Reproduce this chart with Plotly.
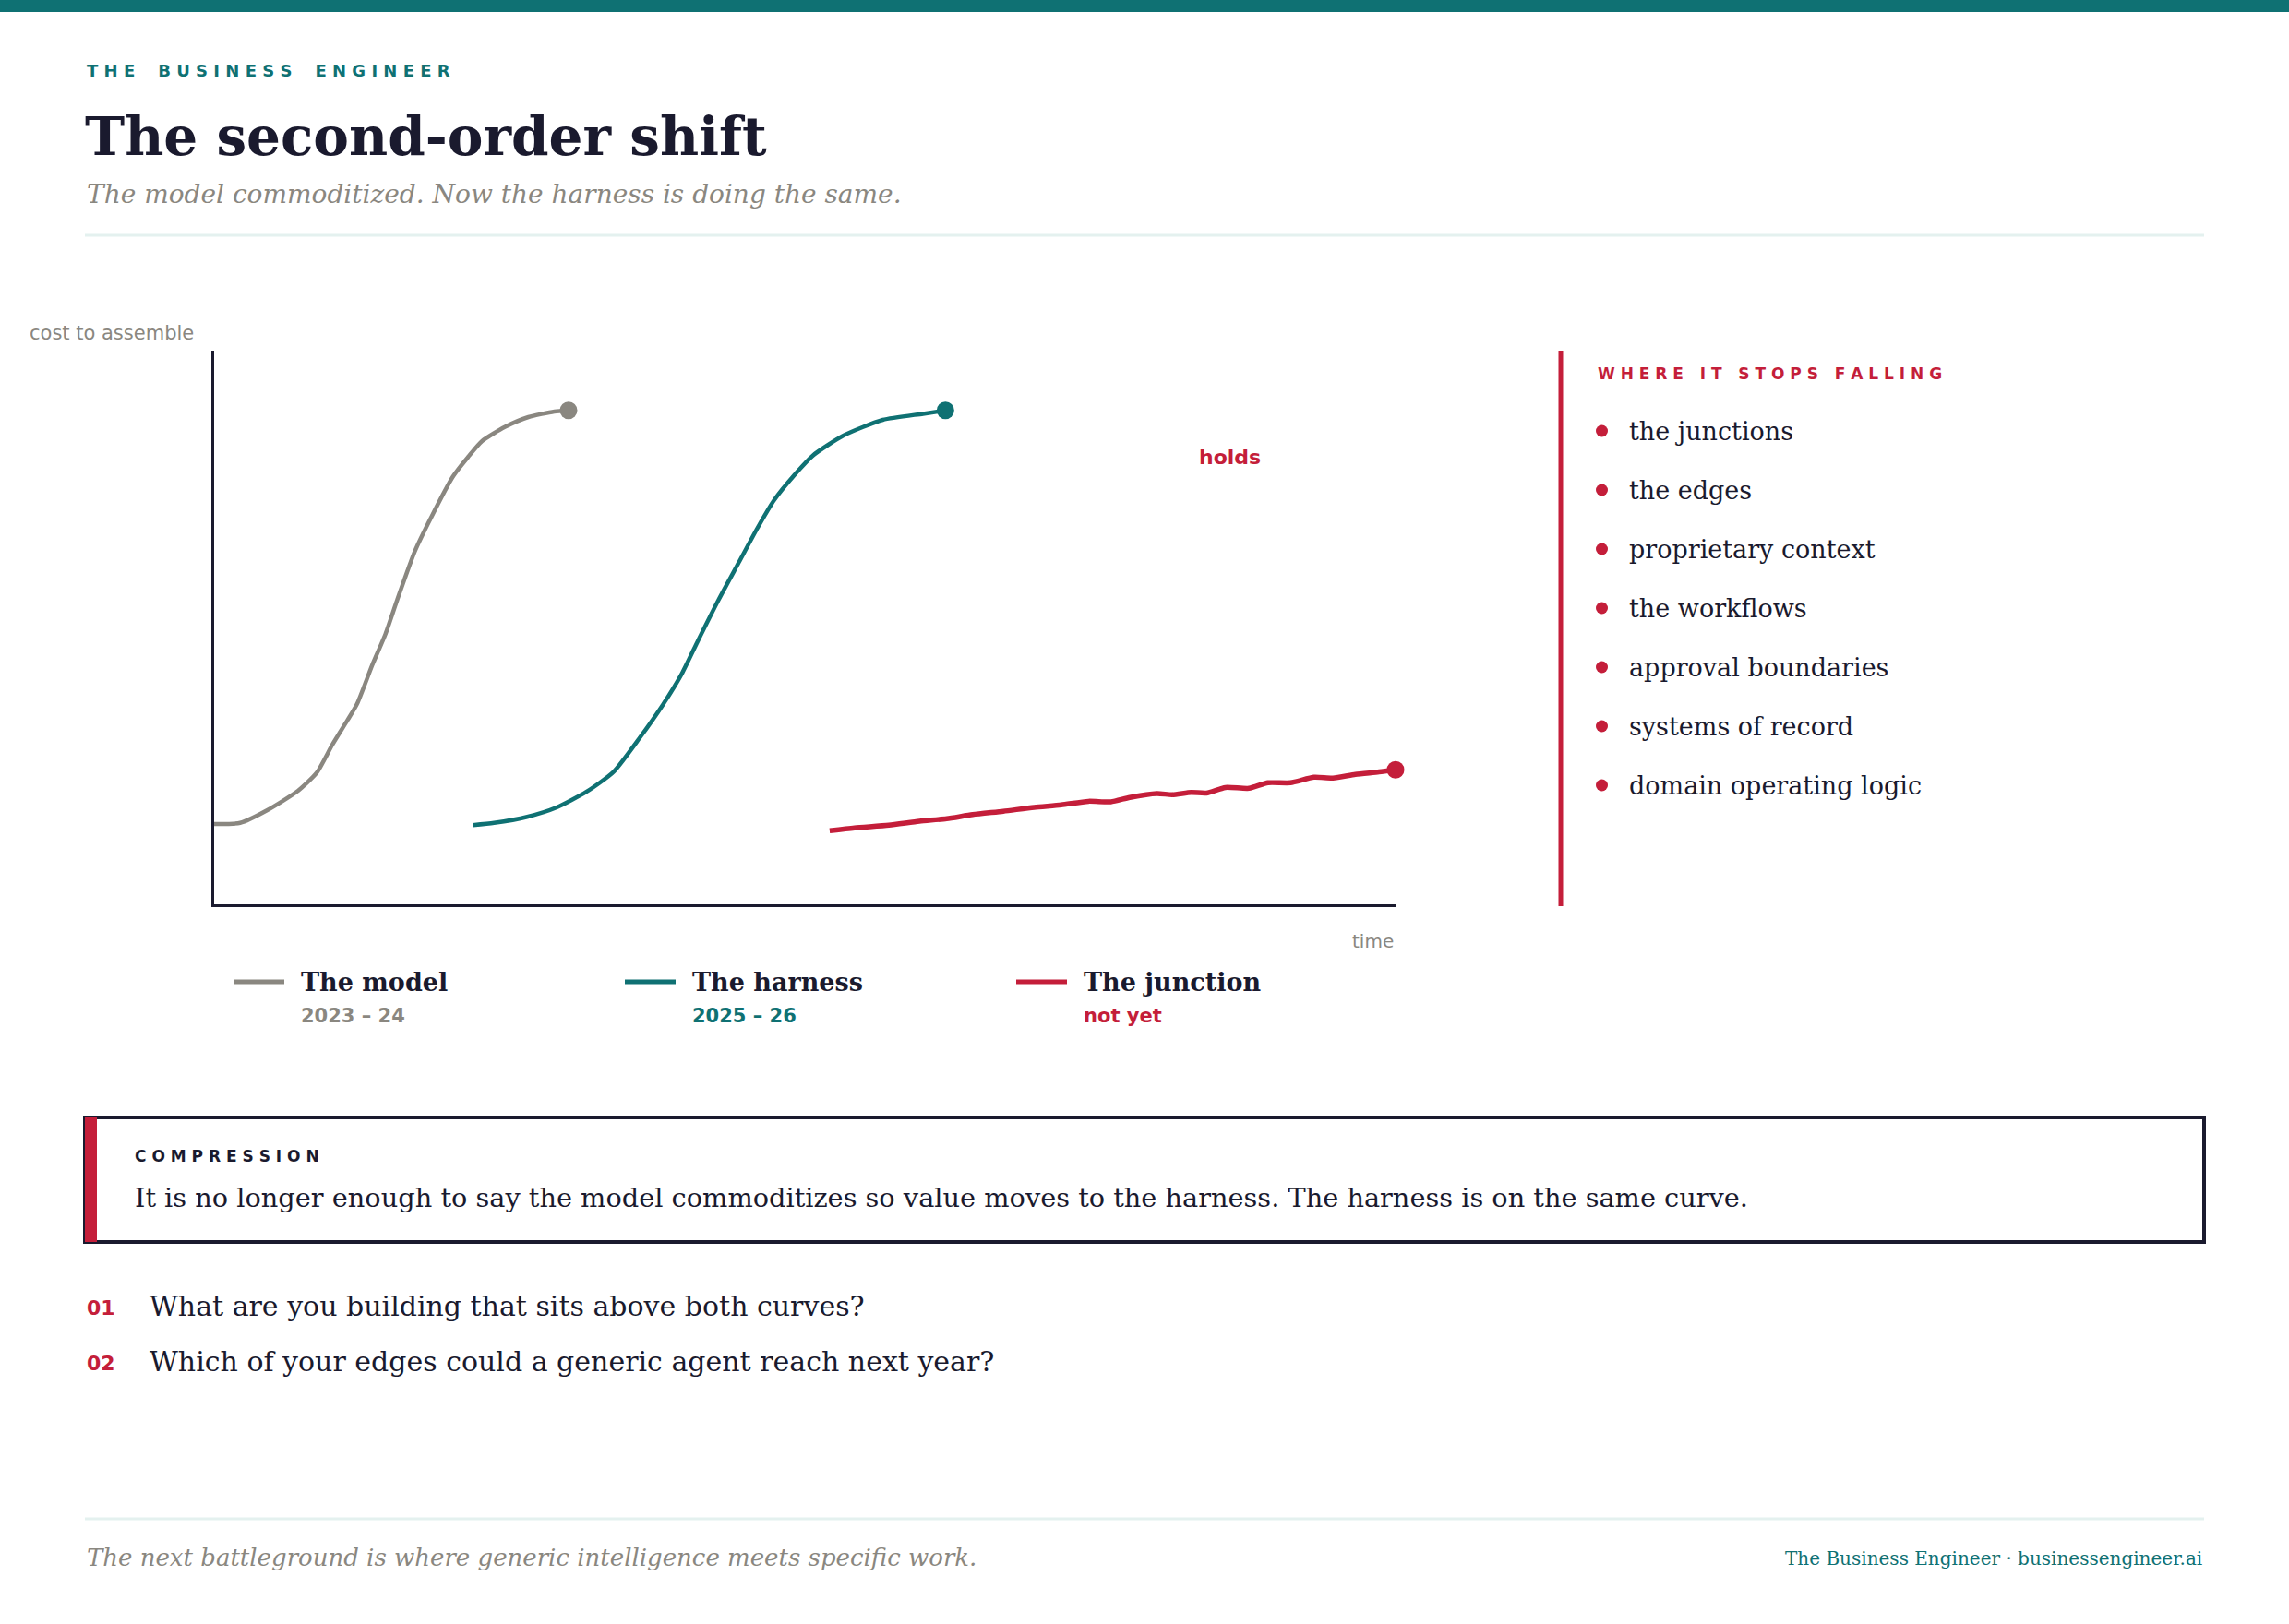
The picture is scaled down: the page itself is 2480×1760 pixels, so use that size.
import plotly.graph_objects as go

W, H = 2480, 1760

# curve data (x = time, y = cost to assemble, both 0-100)
model_x = [0, 2.2, 4.5, 7.1, 8.7, 10, 11.3, 12.1, 13.4, 14.5, 15.5, 17, 18.4, 20.2, 21.5, 22.7, 24.6, 26.6, 28.8, 30]
model_y = [14.5, 14.7, 17, 20.5, 23.8, 28.8, 33.3, 36.2, 43.3, 48.8, 55, 63.8, 70, 77.2, 80.8, 83.7, 86.2, 88, 89, 89.2]

harness_x = [21.9, 23.7, 26.5, 29.0, 31.5, 33.8, 36.0, 38.0, 39.6, 41.0, 42.7, 44.4, 46.0, 47.4, 49.1, 50.7, 53.3, 56.6, 60, 61.9]
harness_y = [14.3, 14.7, 15.8, 17.5, 20.3, 23.9, 30, 36.1, 41.7, 47.8, 55, 61.7, 68, 73, 77.5, 81.1, 84.7, 87.5, 88.6, 89.2]

junction_x = [52.1, 54.2, 57.1, 59.7, 62.0, 64.2, 66.8, 69.4, 71.7, 74.0, 75.9, 77.5, 79.8, 81.1, 82.7,
              84.0, 85.6, 87.6, 89.2, 91.1, 93.1, 94.7, 96.6, 98.6, 100]
junction_y = [13.3, 13.8, 14.3, 15.0, 15.45, 16.2, 16.8, 17.5, 17.95, 18.6, 18.5, 19.3, 20.0, 19.8, 20.2,
              20.1, 21.1, 20.95, 21.95, 21.95, 22.95, 22.8, 23.45, 23.9, 24.3]

series_names = ["The model", "The harness", "The junction"]
series_sub = ["2023 – 24", "2025 – 26", "not yet"]

stop_items = ["the junctions", "the edges", "proprietary context", "the workflows",
              "approval boundaries", "systems of record", "domain operating logic"]

questions = ["What are you building that sits above both curves?",
             "Which of your edges could a generic agent reach next year?"]

TEAL = "#0f7173"
GRAY = "#8a8780"
RED = "#c41e3a"
NAVY = "#1a1a2e"
PALE = "#e4f1ef"
SERIF = "DejaVu Serif"
SANS = "DejaVu Sans"


def px(x):
    return x / W


def py(y):
    return 1 - y / H


def spaced(s, wide=False):
    # fake letter-spacing
    out = " ".join(s)
    if wide:
        out = out.replace("   ", "    ")
    return out


fig = go.Figure()

colors = [GRAY, TEAL, RED]
widths = [4.5, 4.5, 5.5]
for (xs, ys), c, w, name in zip([(model_x, model_y), (harness_x, harness_y), (junction_x, junction_y)],
                                colors, widths, series_names):
    fig.add_trace(go.Scatter(x=xs, y=ys, mode="lines", line=dict(color=c, width=w, shape="spline", smoothing=0.6),
                             name=name, hoverinfo="skip"))
    fig.add_trace(go.Scatter(x=[xs[-1]], y=[ys[-1]], mode="markers", marker=dict(color=c, size=19),
                             hoverinfo="skip", cliponaxis=False))

ann = []
shapes = []


def text(x, y, s, size, color, family=SANS, weight="normal", style="normal", xanchor="left"):
    ann.append(dict(x=px(x), y=py(y), xref="paper", yref="paper", text=s, showarrow=False,
                    xanchor=xanchor, yanchor="middle",
                    font=dict(family=family, size=size, color=color, weight=weight, style=style)))


def hline(x0, x1, y, color, width):
    shapes.append(dict(type="line", xref="paper", yref="paper", x0=px(x0), x1=px(x1), y0=py(y), y1=py(y),
                       line=dict(color=color, width=width)))


# header
shapes.append(dict(type="rect", xref="paper", yref="paper", x0=0, x1=1, y0=py(13), y1=1,
                   fillcolor=TEAL, line=dict(width=0)))
text(92, 76, spaced("THE BUSINESS ENGINEER", wide=True), 18, TEAL, weight="bold")
text(90, 148, "The second-order shift", 58, NAVY, family=SERIF, weight="bold")
text(92, 210, "The model commoditized. Now the harness is doing the same.", 28, GRAY, family=SERIF, style="italic")
hline(92, 2388, 255, PALE, 3)

# chart labels
text(30, 361, "cost to assemble", 21, GRAY)
text(1512, 1020, "time", 20, GRAY, xanchor="right")
text(1332, 495, "holds", 22, RED, weight="bold", xanchor="center")

# legend
leg_x = [253, 677, 1101]
for lx, c, name, sub in zip(leg_x, colors, series_names, series_sub):
    hline(lx, lx + 55, 1064, c, 5)
    text(lx + 71, 1064, name, 27, NAVY, family=SERIF, weight="bold")
    text(lx + 71, 1101, sub, 21, c, weight="bold")

# right panel
shapes.append(dict(type="line", xref="paper", yref="paper", x0=px(1691), x1=px(1691), y0=py(380), y1=py(982),
                   line=dict(color=RED, width=5)))
text(1729, 405, spaced("WHERE IT STOPS FALLING"), 17, RED, weight="bold")
for i, item in enumerate(stop_items):
    yy = 467 + i * 64
    shapes.append(dict(type="circle", xref="paper", yref="paper", x0=px(1729), x1=px(1742),
                       y0=py(yy + 6.5), y1=py(yy - 6.5), fillcolor=RED, line=dict(width=0)))
    text(1763, yy, item, 27, NAVY, family=SERIF)

# compression box
shapes.append(dict(type="rect", xref="paper", yref="paper", x0=px(92), x1=px(2388), y0=py(1346), y1=py(1211),
                   line=dict(color=NAVY, width=4), fillcolor="white"))
shapes.append(dict(type="rect", xref="paper", yref="paper", x0=px(92), x1=px(105), y0=py(1346), y1=py(1211),
                   line=dict(width=0), fillcolor=RED))
text(144, 1253, spaced("COMPRESSION"), 17, NAVY, weight="bold")
text(144, 1298, "It is no longer enough to say the model commoditizes so value moves to the harness. "
                "The harness is on the same curve.", 28.8, NAVY, family=SERIF)

# questions
for i, q in enumerate(questions):
    yy = 1415 + i * 60
    text(92, yy + 2, "%02d" % (i + 1), 22, RED, weight="bold")
    text(160, yy, q, 30, NAVY, family=SERIF)

# footer
hline(92, 2388, 1646, PALE, 3)
text(92, 1688, "The next battleground is where generic intelligence meets specific work.", 26, GRAY,
     family=SERIF, style="italic")
text(2388, 1689, "The Business Engineer · businessengineer.ai", 20, TEAL, family=SERIF, xanchor="right")

fig.update_layout(
    width=W, height=H,
    margin=dict(l=0, r=0, t=0, b=0),
    paper_bgcolor="white", plot_bgcolor="white",
    showlegend=False,
    annotations=ann,
    shapes=shapes,
    xaxis=dict(domain=[px(232), px(1512)], range=[0, 100], showline=True, linecolor=NAVY, linewidth=3,
               showgrid=False, zeroline=False, showticklabels=False, ticks=""),
    yaxis=dict(domain=[py(980), py(380)], range=[0, 100], showline=True, linecolor=NAVY, linewidth=3,
               showgrid=False, zeroline=False, showticklabels=False, ticks=""),
)

# drop the browser's default body margin so the figure sits at the page origin
fig.write_html("out.html", config={"displayModeBar": False},
               post_script="document.body.style.margin='0';")
